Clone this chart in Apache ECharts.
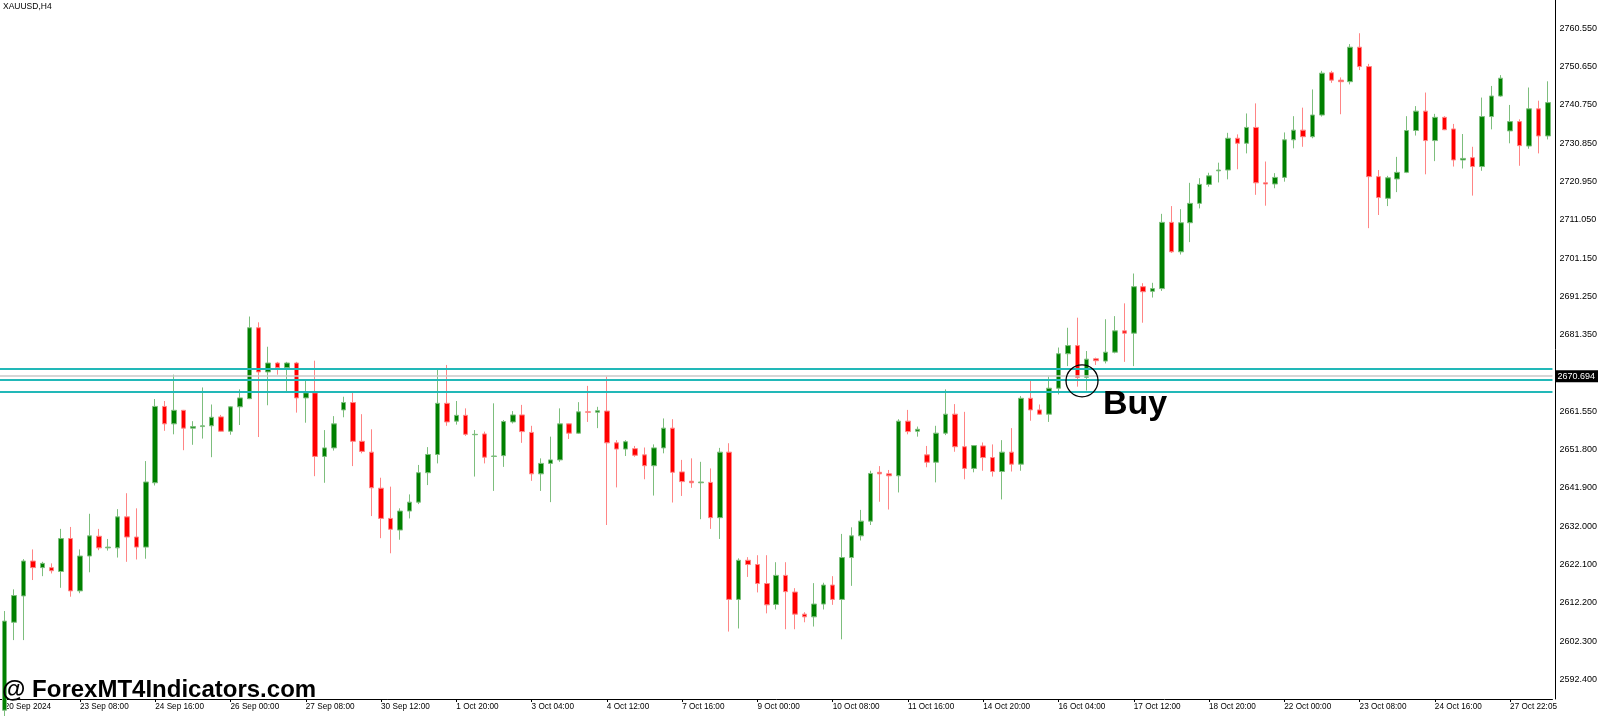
<!DOCTYPE html>
<html><head><meta charset="utf-8">
<script src="https://cdn.jsdelivr.net/npm/echarts@6/dist/echarts.min.js"></script>
<style>html,body{margin:0;padding:0;background:#fff}#c{width:1600px;height:716px}</style>
</head><body><div id="c"></div>
<script>
const chartTitle = 'XAUUSD,H4';
const watermark = '@ ForexMT4Indicators.com';
const firstDateLabel = '20 Sep 2024';
const categories = [
'20 Sep 04:00','20 Sep 08:00','20 Sep 12:00','20 Sep 16:00','20 Sep 20:00','22 Sep 22:05',
'23 Sep 00:00','23 Sep 04:00','23 Sep 08:00','23 Sep 12:00','23 Sep 16:00','23 Sep 20:00',
'24 Sep 00:00','24 Sep 04:00','24 Sep 08:00','24 Sep 12:00','24 Sep 16:00','24 Sep 20:00',
'25 Sep 00:00','25 Sep 04:00','25 Sep 08:00','25 Sep 12:00','25 Sep 16:00','25 Sep 20:00',
'26 Sep 00:00','26 Sep 04:00','26 Sep 08:00','26 Sep 12:00','26 Sep 16:00','26 Sep 20:00',
'27 Sep 00:00','27 Sep 04:00','27 Sep 08:00','27 Sep 12:00','27 Sep 16:00','27 Sep 20:00',
'29 Sep 22:05',
'30 Sep 00:00','30 Sep 04:00','30 Sep 08:00','30 Sep 12:00','30 Sep 16:00','30 Sep 20:00',
'1 Oct 00:00','1 Oct 04:00','1 Oct 08:00','1 Oct 12:00','1 Oct 16:00','1 Oct 20:00',
'2 Oct 00:00','2 Oct 04:00','2 Oct 08:00','2 Oct 12:00','2 Oct 16:00','2 Oct 20:00',
'3 Oct 00:00','3 Oct 04:00','3 Oct 08:00','3 Oct 12:00','3 Oct 16:00','3 Oct 20:00',
'4 Oct 00:00','4 Oct 04:00','4 Oct 08:00','4 Oct 12:00','4 Oct 16:00','4 Oct 20:00',
'6 Oct 22:05',
'7 Oct 00:00','7 Oct 04:00','7 Oct 08:00','7 Oct 12:00','7 Oct 16:00','7 Oct 20:00',
'8 Oct 00:00','8 Oct 04:00','8 Oct 08:00','8 Oct 12:00','8 Oct 16:00','8 Oct 20:00',
'9 Oct 00:00','9 Oct 04:00','9 Oct 08:00','9 Oct 12:00','9 Oct 16:00','9 Oct 20:00',
'10 Oct 00:00','10 Oct 04:00','10 Oct 08:00','10 Oct 12:00','10 Oct 16:00','10 Oct 20:00',
'11 Oct 00:00','11 Oct 04:00','11 Oct 08:00','11 Oct 12:00','11 Oct 16:00','11 Oct 20:00',
'13 Oct 22:05',
'14 Oct 00:00','14 Oct 04:00','14 Oct 08:00','14 Oct 12:00','14 Oct 16:00','14 Oct 20:00',
'15 Oct 00:00','15 Oct 04:00','15 Oct 08:00','15 Oct 12:00','15 Oct 16:00','15 Oct 20:00',
'16 Oct 00:00','16 Oct 04:00','16 Oct 08:00','16 Oct 12:00','16 Oct 16:00','16 Oct 20:00',
'17 Oct 00:00','17 Oct 04:00','17 Oct 08:00','17 Oct 12:00','17 Oct 16:00','17 Oct 20:00',
'18 Oct 00:00','18 Oct 04:00','18 Oct 08:00','18 Oct 12:00','18 Oct 16:00','18 Oct 20:00',
'20 Oct 22:05',
'21 Oct 00:00','21 Oct 04:00','21 Oct 08:00','21 Oct 12:00','21 Oct 16:00','21 Oct 20:00',
'22 Oct 00:00','22 Oct 04:00','22 Oct 08:00','22 Oct 12:00','22 Oct 16:00','22 Oct 20:00',
'23 Oct 00:00','23 Oct 04:00','23 Oct 08:00','23 Oct 12:00','23 Oct 16:00','23 Oct 20:00',
'24 Oct 00:00','24 Oct 04:00','24 Oct 08:00','24 Oct 12:00','24 Oct 16:00','24 Oct 20:00',
'25 Oct 00:00','25 Oct 04:00','25 Oct 08:00','25 Oct 12:00','25 Oct 16:00','25 Oct 20:00',
'27 Oct 22:05',
'28 Oct 00:00','28 Oct 04:00','28 Oct 08:00','28 Oct 12:00'
];
const opens = [
2584.5,2607.2,2614.0,2623.0,2621.3,2621.3,2620.3,2628.8,2615.3,2624.3,
2629.4,2626.4,2626.4,2634.4,2629.2,2626.6,2643.2,2662.9,2658.4,2661.9,
2657.3,2657.7,2657.9,2660.2,2656.5,2662.8,2664.9,2683.2,2671.8,2674.1,
2672.9,2674.1,2665.1,2666.4,2650.0,2652.2,2662.0,2663.9,2653.9,2651.1,
2641.8,2634.0,2631.0,2635.9,2638.2,2645.8,2650.5,2663.7,2659.1,2660.6,
2655.6,2655.8,2650.0,2650.2,2658.9,2660.7,2656.2,2645.5,2648.2,2649.1,
2658.4,2656.0,2661.5,2661.4,2661.7,2653.5,2651.9,2652.0,2650.4,2647.6,
2652.2,2657.3,2646.0,2643.6,2643.2,2643.3,2634.2,2651.1,2613.1,2623.2,
2622.1,2617.2,2611.8,2619.3,2615.0,2609.3,2608.6,2611.9,2616.8,2613.1,
2623.9,2629.5,2633.3,2645.9,2645.5,2645.0,2659.1,2656.5,2650.4,2648.5,
2656.0,2660.9,2652.5,2646.9,2652.7,2649.7,2646.1,2651.1,2648.0,2665.0,
2662.0,2660.9,2667.6,2676.5,2678.6,2670.4,2675.2,2674.6,2676.9,2682.4,
2681.8,2693.8,2692.6,2693.3,2710.4,2702.8,2710.3,2715.3,2720.2,2723.7,
2723.9,2732.1,2730.8,2734.9,2720.6,2720.3,2722.0,2731.7,2734.2,2732.5,
2738.1,2749.0,2747.1,2746.7,2755.6,2750.6,2722.2,2716.6,2721.6,2723.3,
2734.1,2739.1,2731.5,2737.5,2734.5,2726.5,2727.1,2724.8,2737.7,2743.0,
2734.0,2736.4,2730.1,2739.7,2732.7
];
const closes = [
2607.5,2614.1,2623.0,2621.3,2622.4,2620.5,2628.8,2615.3,2624.3,2629.5,
2626.4,2626.6,2634.4,2629.2,2626.6,2643.4,2662.9,2658.4,2661.9,2657.3,
2657.7,2657.9,2660.1,2656.5,2662.8,2665.1,2683.2,2671.8,2674.1,2672.9,
2674.1,2665.1,2666.4,2650.0,2652.2,2658.4,2663.9,2653.9,2651.3,2641.9,
2634.0,2631.2,2635.9,2638.2,2645.8,2650.5,2663.7,2658.9,2660.6,2655.7,
2655.7,2649.8,2650.1,2659.0,2660.7,2656.4,2645.5,2648.2,2649.1,2658.4,
2656.0,2661.5,2661.4,2661.8,2653.5,2651.9,2653.8,2650.3,2647.6,2652.2,
2657.3,2645.9,2643.5,2643.2,2643.4,2634.2,2651.1,2613.1,2623.2,2622.1,
2617.2,2611.7,2619.3,2615.1,2609.3,2608.6,2611.9,2616.8,2613.1,2623.9,
2629.5,2633.3,2645.6,2645.5,2645.0,2659.1,2656.4,2657.0,2648.5,2656.0,
2660.9,2652.5,2646.9,2652.8,2649.7,2646.1,2651.1,2648.0,2665.0,2662.0,
2660.9,2667.6,2676.5,2678.6,2670.4,2675.1,2674.7,2676.9,2682.4,2681.8,
2693.8,2692.5,2693.3,2710.4,2702.8,2710.3,2715.3,2720.2,2722.4,2723.9,
2732.1,2730.8,2734.9,2720.6,2720.3,2722.0,2731.7,2734.2,2732.5,2738.1,
2748.9,2747.1,2746.7,2755.6,2750.6,2722.2,2716.8,2721.9,2723.3,2734.1,
2739.1,2731.5,2737.5,2734.3,2726.5,2726.9,2724.8,2737.7,2743.0,2747.6,
2736.4,2730.2,2739.7,2732.7,2741.3
];
const lows = [
2583.0,2602.6,2602.6,2618.1,2619.1,2619.8,2616.1,2613.8,2614.7,2620.1,
2625.8,2625.7,2623.9,2622.8,2623.4,2623.6,2642.5,2656.6,2655.7,2651.6,
2653.0,2654.6,2649.8,2656.4,2655.6,2658.1,2664.8,2655.0,2663.2,2671.1,
2666.7,2661.3,2658.7,2644.9,2643.2,2651.5,2660.1,2647.5,2650.8,2634.6,
2628.9,2625.0,2628.5,2634.0,2637.7,2642.6,2648.2,2657.9,2658.2,2655.3,
2644.8,2648.2,2641.1,2647.3,2658.5,2653.5,2643.7,2641.1,2638.2,2648.6,
2654.5,2655.8,2658.9,2657.3,2632.3,2642.0,2650.1,2649.9,2644.1,2639.9,
2650.8,2638.1,2639.8,2641.9,2633.8,2631.3,2628.7,2604.8,2605.6,2618.9,
2614.9,2609.5,2610.5,2605.4,2605.4,2607.2,2606.1,2610.5,2611.7,2602.8,
2616.6,2628.3,2632.3,2638.3,2636.3,2640.7,2655.7,2655.1,2647.2,2643.3,
2655.5,2651.2,2644.1,2645.9,2646.3,2644.8,2638.9,2646.1,2646.3,2659.2,
2660.7,2658.9,2666.0,2673.3,2668.0,2667.0,2673.6,2674.0,2676.6,2674.4,
2673.3,2684.5,2691.0,2692.7,2702.5,2702.1,2705.3,2714.0,2719.6,2720.7,
2721.5,2724.1,2728.2,2717.5,2714.7,2719.2,2720.9,2729.5,2729.9,2732.1,
2737.7,2746.4,2738.3,2746.0,2749.7,2708.9,2712.3,2714.6,2718.2,2723.1,
2732.8,2722.8,2726.2,2734.2,2724.8,2724.3,2717.3,2723.7,2734.4,2742.8,
2730.8,2725.0,2729.4,2728.2,2731.8
];
const highs = [
2610.1,2615.7,2623.5,2626.0,2622.8,2622.4,2631.3,2631.8,2626.0,2635.2,
2631.3,2628.7,2636.4,2640.5,2636.6,2648.8,2664.8,2664.3,2671.1,2662.0,
2659.1,2667.8,2663.4,2660.7,2663.0,2667.3,2686.1,2684.6,2678.3,2674.4,
2674.4,2674.4,2669.7,2674.7,2656.8,2660.4,2665.4,2666.6,2660.9,2657.0,
2644.5,2642.2,2636.6,2640.2,2647.8,2652.4,2672.3,2673.6,2664.3,2662.4,
2656.8,2656.4,2663.7,2659.4,2661.7,2663.3,2657.9,2649.5,2655.1,2662.4,
2658.5,2664.0,2668.2,2662.8,2670.6,2654.2,2654.2,2652.7,2652.3,2653.1,
2659.8,2659.6,2649.1,2649.5,2648.6,2646.9,2652.2,2653.4,2623.7,2624.0,
2624.5,2624.5,2622.7,2622.7,2616.0,2609.8,2617.3,2617.4,2619.1,2630.0,
2631.7,2636.2,2646.3,2647.5,2646.5,2659.6,2662.0,2657.7,2652.7,2657.9,
2667.3,2663.5,2661.5,2652.9,2653.6,2653.1,2654.2,2657.3,2665.6,2669.5,
2663.4,2670.6,2678.1,2683.2,2685.8,2677.2,2675.5,2685.4,2686.2,2689.5,
2697.2,2694.7,2694.8,2712.6,2714.6,2713.8,2720.6,2721.8,2723.2,2725.8,
2733.5,2733.1,2738.5,2741.1,2726.1,2723.1,2733.6,2737.8,2740.0,2744.7,
2749.5,2749.5,2747.8,2756.4,2759.2,2751.3,2723.9,2722.4,2727.3,2737.8,
2740.4,2743.9,2738.4,2737.8,2735.8,2733.2,2729.9,2742.6,2745.6,2748.4,
2740.7,2737.0,2745.2,2741.8,2746.8
];
const yTicks = [2592.4,2602.3,2612.2,2622.1,2632.0,2641.9,2651.8,2661.55,2681.35,2691.25,2701.15,2711.05,2720.95,2730.85,2740.75,2750.65,2760.55];
const yMin = 2587.4, yMax = 2767.78;
const levelLines = [2672.68, 2669.67, 2666.70];
const currentPrice = 2670.694;
const signalBars = [114, 115];
const signalPrice = 2669.5;
const signalText = 'Buy';

const chart = echarts.init(document.getElementById('c'), null, {renderer: 'canvas'});
const ohlc = opens.map((o, i) => [o, closes[i], lows[i], highs[i]]);
const FONT = 'Liberation Sans';

const mlData = levelLines.map(v => ({
  yAxis: v,
  lineStyle: {color: '#22B8B8', width: 2, type: 'solid'},
  label: {show: false}
}));
mlData.push({
  yAxis: currentPrice,
  lineStyle: {color: '#C8C8C8', width: 1.5, type: 'solid'},
  label: {show: true, position: 'end', distance: 3, formatter: currentPrice.toFixed(3),
    color: '#fff', backgroundColor: '#000', padding: [2, 3, 1, 2], fontSize: 9, fontFamily: FONT}
});

chart.setOption({
  animation: false,
  backgroundColor: '#fff',
  grid: {left: -3.8, top: 0, width: 1558.6, height: 699, show: false, containLabel: false},
  xAxis: {
    type: 'category', data: categories, boundaryGap: true,
    axisLine: {show: true, onZero: false, lineStyle: {color: '#000', width: 1}},
    axisTick: {show: true, interval: 7, alignWithLabel: true, length: 3, lineStyle: {color: '#000'}},
    axisLabel: {interval: 7, align: 'left', margin: 4, fontSize: 8.2, color: '#000', fontFamily: FONT,
      formatter: (v, i) => i === 0 ? firstDateLabel : v},
    splitLine: {show: false}
  },
  yAxis: {
    type: 'value', position: 'right', offset: 3, min: yMin, max: yMax,
    axisLine: {show: true, lineStyle: {color: '#000', width: 1}},
    axisTick: {show: false},
    axisLabel: {customValues: yTicks, formatter: v => v.toFixed(3), fontSize: 9, color: '#000', margin: 4, fontFamily: FONT},
    splitLine: {show: false}
  },
  series: [{
    type: 'candlestick', data: ohlc, barWidth: 5,
    itemStyle: {color: '#008000', color0: '#FF0000', borderColor: '#7DBE7D', borderColor0: '#FF8585', borderWidth: 1},
    markLine: {silent: true, symbol: ['none', 'none'], animation: false, data: mlData}
  }]
});

const pa = chart.convertToPixel({seriesIndex: 0}, [signalBars[0], signalPrice]);
const pb = chart.convertToPixel({seriesIndex: 0}, [signalBars[1], signalPrice]);
const cx = (pa[0] + pb[0]) / 2, cy = pa[1];

chart.setOption({
  graphic: [
    {type: 'text', left: 3, top: 2, style: {text: chartTitle, font: '8.5px "Liberation Sans"', fill: '#000'}},
    {type: 'circle', shape: {cx: cx, cy: cy, r: 16}, style: {fill: 'none', stroke: '#000', lineWidth: 1.3}, z: 100},
    {type: 'text', x: cx + 21, y: cy + 24, style: {text: signalText, font: 'bold 34px "Liberation Sans"', fill: '#000', align: 'left', verticalAlign: 'middle'}, z: 100},
    {type: 'text', x: 2, y: 690.5, style: {text: watermark, font: 'bold 24px "Liberation Sans"', fill: '#000', align: 'left', verticalAlign: 'middle'}, z: 100}
  ]
});
</script></body></html>
